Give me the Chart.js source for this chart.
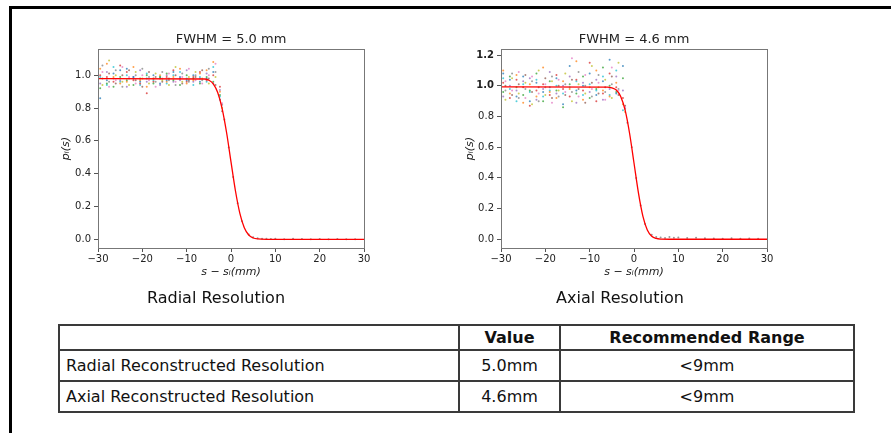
<!DOCTYPE html>
<html>
<head>
<meta charset="utf-8">
<script src="https://cdn.jsdelivr.net/npm/chart.js@4.4.1/dist/chart.umd.min.js"></script>
<style>
  html, body { margin: 0; padding: 0; background: #fff; }
  body { width: 891px; height: 433px; position: relative; overflow: hidden; font-family: "DejaVu Sans", sans-serif; color: #111; }
  .frame { position: absolute; left: 9px; top: 6px; width: 900px; height: 450px; border-top: 3px solid #000; border-left: 3px solid #000; }
  .plot { position: absolute; top: 28px; }
  .caption { position: absolute; top: 289px; width: 200px; text-align: center; font-size: 16px; line-height: 18px; }
  table { position: absolute; left: 58px; top: 324px; border-collapse: collapse; table-layout: fixed; font-size: 16px; }
  td, th { border: 2px solid #3a3a3a; padding: 0 6px; white-space: nowrap; }
  th { height: 23px; font-weight: bold; text-align: center; }
  td { height: 29px; }
  td.num { text-align: center; }
</style>
</head>
<body>
<div class="frame"></div>

<div class="plot" style="left:40px"><canvas id="radialChart" width="335" height="262"></canvas></div>
<div class="plot" style="left:443px"><canvas id="axialChart" width="335" height="262"></canvas></div>

<div class="caption" style="left:116px">Radial Resolution</div>
<div class="caption" style="left:520px">Axial Resolution</div>

<table>
  <colgroup><col style="width:400px"><col style="width:101px"><col style="width:294px"></colgroup>
  <tr><th></th><th>Value</th><th>Recommended Range</th></tr>
  <tr><td>Radial Reconstructed Resolution</td><td class="num">5.0mm</td><td class="num">&lt;9mm</td></tr>
  <tr><td>Axial Reconstructed Resolution</td><td class="num">4.6mm</td><td class="num">&lt;9mm</td></tr>
</table>

<script>
// ---- data ----
const xTicks = [-30, -20, -10, 0, 10, 20, 30];

// edge-spread fit (red curve)
const fitX = [-30, -6, -5, -4, -3, -2, -1, 0, 1, 2, 3, 4, 5, 6, 8, 30];
const radialFit = [0.98, 0.977, 0.970, 0.948, 0.895, 0.797, 0.651, 0.472, 0.296, 0.158, 0.070, 0.026, 0.008, 0.002, 0.0, 0.0];
const axialFit = [0.993, 0.992, 0.987, 0.973, 0.931, 0.841, 0.691, 0.497, 0.302, 0.151, 0.061, 0.020, 0.005, 0.001, 0.0, 0.0];

// measured profiles on the plateau (one array per colour)
const noiseX = [-29.5, -28, -26.5, -25, -23.5, -22, -20.5, -19, -17.5, -16, -14.5, -13, -11.5, -10, -8.5, -7, -5.5, -4, -2.5];
const noiseX2 = [-29, -27.5, -26, -24.5, -23, -21.5, -20, -18.5, -17, -15.5, -14, -12.5, -11, -9.5, -8, -6.5, -5, -3.5, -2];

const radialA = [0.86, 0.97, 1.01, 1.03, 1.04, 0.99, 0.96, 0.98, 1.00, 0.95, 0.97, 1.02, 0.99, 0.97, 1.00, 0.96, 0.98, 1.02, 0.85];
const radialB = [1.04, 1.07, 0.99, 0.95, 0.96, 1.05, 0.97, 0.93, 0.98, 1.00, 0.96, 0.99, 1.04, 0.95, 0.97, 1.01, 1.03, 1.08, 0.90];
const radialC = [0.92, 0.95, 0.93, 0.99, 0.97, 0.94, 0.98, 1.00, 0.95, 0.99, 1.01, 0.97, 0.94, 1.00, 0.98, 0.95, 0.99, 0.96, 0.88];
const radialD = [1.00, 0.99, 0.96, 1.06, 1.02, 0.97, 0.95, 0.89, 0.96, 0.98, 0.99, 1.03, 0.98, 0.96, 0.99, 1.02, 0.97, 1.00, 0.93];
const radialE = [0.95, 1.02, 0.98, 0.97, 0.93, 0.99, 1.03, 0.96, 0.98, 0.94, 1.00, 0.96, 0.97, 1.03, 0.96, 0.98, 1.01, 0.95, 0.91];
const radialF = [0.99, 0.94, 1.05, 0.96, 1.00, 0.98, 0.94, 1.01, 0.97, 0.99, 0.95, 1.00, 1.02, 0.98, 0.94, 0.99, 0.96, 1.05, 0.87];
const radialG = [1.02, 0.93, 0.97, 1.05, 0.99, 0.95, 1.00, 0.97, 0.93, 0.98, 1.01, 0.96, 0.99, 1.04, 0.97, 0.95, 1.00, 1.07, 0.83];
const radialH = [0.94, 1.09, 1.00, 0.96, 0.94, 1.02, 0.98, 0.95, 1.01, 0.97, 0.94, 1.05, 0.96, 0.99, 1.02, 0.98, 0.95, 0.99, 0.80];
const radialI = [0.98, 1.01, 0.95, 1.00, 1.03, 0.97, 0.93, 1.02, 0.99, 0.96, 0.98, 1.00, 0.95, 0.97, 0.99, 1.03, 0.98, 0.94, 0.78];
const radialJ = [1.06, 0.96, 1.03, 0.93, 0.98, 1.00, 1.04, 0.99, 0.96, 1.02, 0.97, 0.94, 1.01, 0.96, 1.00, 0.97, 1.04, 1.02, 0.82];

const axialA = [1.08, 1.04, 0.93, 1.06, 0.90, 1.02, 0.96, 0.99, 1.05, 0.88, 1.13, 0.97, 1.00, 1.08, 0.94, 1.03, 1.17, 0.95, 1.13];
const axialB = [1.10, 0.95, 1.07, 0.89, 1.01, 0.93, 1.12, 0.96, 0.92, 1.03, 0.98, 1.16, 0.91, 0.99, 1.10, 0.97, 0.93, 1.02, 0.88];
const axialC = [0.96, 1.06, 0.99, 0.94, 0.97, 1.08, 0.90, 1.03, 0.97, 0.86, 1.01, 0.95, 1.06, 0.92, 0.98, 1.12, 1.00, 0.96, 1.05];
const axialD = [1.02, 0.92, 1.04, 0.99, 0.87, 0.97, 1.01, 0.94, 1.07, 0.98, 0.93, 1.04, 0.97, 1.15, 0.90, 0.95, 1.08, 0.99, 0.92];
const axialE = [0.93, 1.00, 0.97, 1.03, 1.05, 0.91, 0.98, 1.09, 0.95, 1.00, 1.06, 0.89, 1.02, 0.96, 1.04, 0.91, 0.98, 1.06, 0.97];
const axialF = [1.05, 0.98, 0.90, 1.01, 0.96, 1.04, 0.93, 0.97, 1.00, 0.95, 0.99, 1.03, 0.94, 1.01, 0.97, 1.06, 0.94, 1.10, 0.84];
const axialG = [1.03, 0.97, 1.09, 0.92, 1.06, 0.95, 1.01, 0.89, 1.04, 0.96, 1.18, 0.93, 1.07, 0.98, 1.02, 0.91, 1.12, 0.97, 0.86];
const axialH = [0.91, 1.05, 0.95, 1.02, 0.88, 1.10, 0.94, 1.03, 0.97, 1.08, 0.90, 1.01, 0.95, 1.13, 0.99, 1.04, 0.92, 1.15, 0.83];
const axialI = [1.00, 0.94, 1.01, 1.07, 0.96, 0.99, 1.05, 0.92, 1.00, 0.94, 1.04, 0.98, 0.89, 1.02, 0.95, 0.99, 1.06, 0.94, 0.87];
const axialJ = [0.97, 1.08, 0.92, 0.98, 1.03, 0.90, 0.99, 1.06, 0.93, 1.01, 0.96, 1.09, 1.00, 0.93, 1.07, 0.96, 1.01, 0.98, 0.85];

// points along the edge and the tail
const tailX = [-1.5, -0.5, 0.5, 1.5, 2.5, 4, 5, 6, 7, 8, 9, 10, 12, 14, 16, 18, 20, 22, 24, 26, 28];
const radialTail = [0.73, 0.56, 0.38, 0.22, 0.11, 0.03, 0.012, 0.006, 0.004, 0.003, 0.002, 0.004, 0.001, 0.003, 0.002, 0.0, 0.002, 0.001, 0.002, 0.0, 0.001];
const axialTail = [0.76, 0.60, 0.40, 0.22, 0.10, 0.03, 0.015, 0.012, 0.008, 0.015, 0.01, 0.012, 0.008, 0.01, 0.006, 0.005, 0.004, 0.006, 0.003, 0.005, 0.004];

const noiseColors = ["#1f77b4", "#ff7f0e", "#2ca02c", "#d62728", "#9467bd", "#17becf", "#e377c2", "#bcbd22", "#8c564b", "#7f7f7f"];

// ---- drawing ----
const FONT = "'DejaVu Sans', sans-serif";
const pts = (xs, ys) => xs.map((x, i) => ({ x, y: ys[i] }));
const fmtMinus = v => (v < 0 ? "\u2212" + Math.abs(v) : String(v));

// matplotlib-like box around the plot area, and a title centred on it
const boxPlugin = {
  id: "box",
  afterDraw(chart) {
    const { ctx, chartArea: a } = chart;
    ctx.save();
    ctx.strokeStyle = "#777";
    ctx.lineWidth = 1;
    ctx.strokeRect(Math.round(a.left) + 0.5, Math.round(a.top) + 0.5, Math.round(a.right - a.left), Math.round(a.bottom - a.top));
    ctx.fillStyle = "#222";
    ctx.font = "13px " + FONT;
    ctx.textAlign = "center";
    ctx.textBaseline = "middle";
    ctx.fillText(chart.options.plugins.box.text, (a.left + a.right) / 2, a.top - 9);
    ctx.restore();
  }
};

function makeChart(id, title, fitY, series, tail, yMin, yMax, yTitlePad, boldTop) {
  const datasets = [{
    data: pts(fitX, fitY),
    borderColor: "#ff0000",
    borderWidth: 1.3,
    pointRadius: 0,
    cubicInterpolationMode: "monotone",
    showLine: true
  }];
  series.forEach((ys, i) => {
    datasets.push({
      data: pts(i < 6 ? noiseX : noiseX2, ys),
      showLine: false,
      pointRadius: 1,
      pointBorderWidth: 0,
      backgroundColor: noiseColors[i] + "bb"
    });
  });
  datasets.push({
    data: pts(tailX, tail),
    showLine: false,
    pointRadius: 1,
    pointBorderWidth: 0,
    backgroundColor: "#7f7f7fcc"
  });

  return new Chart(document.getElementById(id), {
    type: "line",
    data: { datasets },
    plugins: [boxPlugin],
    options: {
      responsive: false,
      animation: false,
      layout: { padding: { left: 0, right: 11, top: 21, bottom: 0 } },
      plugins: {
        legend: { display: false },
        tooltip: { enabled: false },
        title: { display: false },
        box: { text: title }
      },
      scales: {
        x: {
          type: "linear",
          min: -30,
          max: 30,
          afterBuildTicks: s => { s.ticks = xTicks.map(v => ({ value: v })); },
          afterFit: s => { s.height = 42; },
          ticks: { color: "#222", font: { family: FONT, size: 10 }, padding: 1, maxRotation: 0, callback: fmtMinus },
          grid: { drawOnChartArea: false, drawTicks: true, tickLength: 4, tickColor: "#555" },
          border: { display: true, color: "#777" },
          title: {
            display: true,
            text: "s \u2212 s\u1d62(mm)",
            color: "#222",
            font: { family: FONT, size: 11, style: "italic" },
            padding: { top: 0, bottom: 11 }
          }
        },
        y: {
          min: yMin,
          max: yMax,
          afterFit: s => { s.width = 58; },
          ticks: {
            stepSize: 0.2,
            includeBounds: false,
            color: "#222",
            padding: 3,
            font: ctx => ({ family: FONT, size: 10, weight: boldTop && ctx.tick && ctx.tick.value > 0.99 ? "bold" : "normal" }),
            callback: v => v.toFixed(1)
          },
          grid: { drawOnChartArea: false, drawTicks: true, tickLength: 4, tickColor: "#555" },
          border: { display: true, color: "#777" },
          title: {
            display: true,
            text: "p\u1d62(s)",
            color: "#222",
            font: { family: FONT, size: 11, style: "italic" },
            padding: { top: yTitlePad, bottom: 0 }
          }
        }
      }
    }
  });
}

makeChart("radialChart", "FWHM = 5.0 mm", radialFit,
  [radialA, radialB, radialC, radialD, radialE, radialF, radialG, radialH, radialI, radialJ],
  radialTail, -0.053, 1.16, 19.4, false);
makeChart("axialChart", "FWHM = 4.6 mm", axialFit,
  [axialA, axialB, axialC, axialD, axialE, axialF, axialG, axialH, axialI, axialJ],
  axialTail, -0.057, 1.24, 20.4, true);
</script>
</body>
</html>
